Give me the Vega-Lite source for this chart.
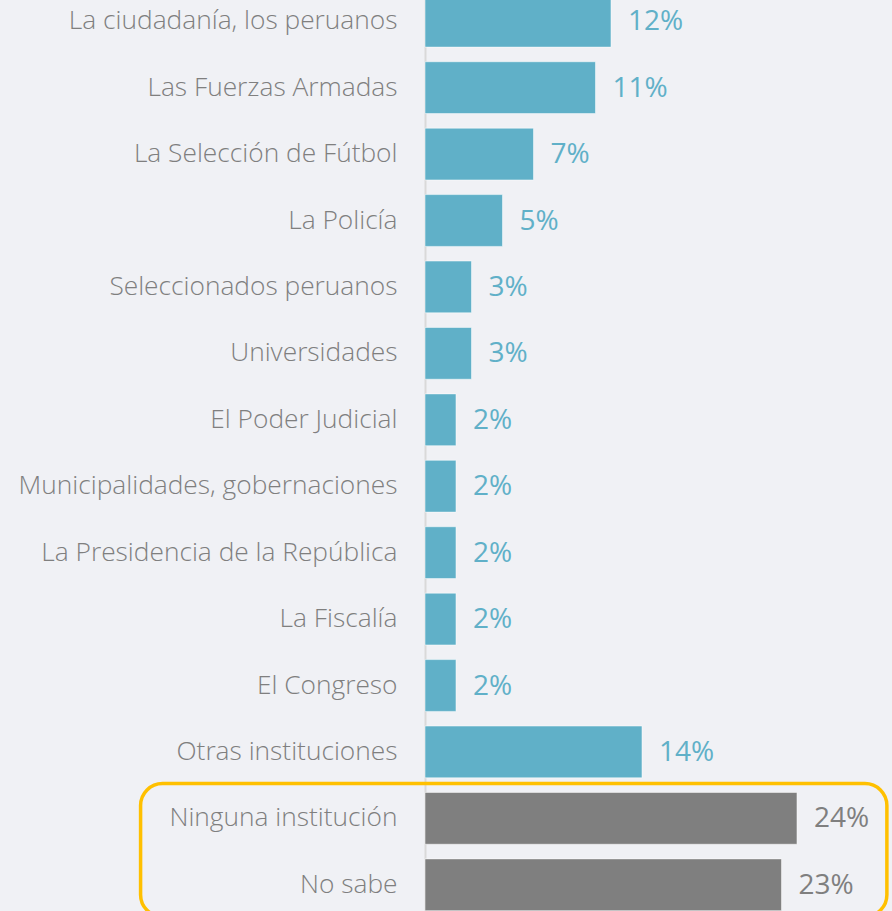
{
  "$schema": "https://vega.github.io/schema/vega-lite/v6.json",
  "autosize": {"type": "none"},
  "padding": {"left": 425, "top": -12, "right": 0, "bottom": -7},
  "width": 467,
  "height": 930,
  "background": "#f0f1f5",
  "config": {"view": {"stroke": null}},
  "datasets": {
    "rows": [
      {"label": "La ciudadanía, los peruanos", "value": 12, "text": "12%", "group": "inst"},
      {"label": "Las Fuerzas Armadas", "value": 11, "text": "11%", "group": "inst"},
      {"label": "La Selección de Fútbol", "value": 7, "text": "7%", "group": "inst"},
      {"label": "La Policía", "value": 5, "text": "5%", "group": "inst"},
      {"label": "Seleccionados peruanos", "value": 3, "text": "3%", "group": "inst"},
      {"label": "Universidades", "value": 3, "text": "3%", "group": "inst"},
      {"label": "El Poder Judicial", "value": 2, "text": "2%", "group": "inst"},
      {"label": "Municipalidades, gobernaciones", "value": 2, "text": "2%", "group": "inst"},
      {"label": "La Presidencia de la República", "value": 2, "text": "2%", "group": "inst"},
      {"label": "La Fiscalía", "value": 2, "text": "2%", "group": "inst"},
      {"label": "El Congreso", "value": 2, "text": "2%", "group": "inst"},
      {"label": "Otras instituciones", "value": 14, "text": "14%", "group": "inst"},
      {"label": "Ninguna institución", "value": 24, "text": "24%", "group": "none"},
      {"label": "No sabe", "value": 23, "text": "23%", "group": "none"}
    ],
    "box": [
      {"from": "Ninguna institución", "to": "No sabe", "x0": -18.35, "x1": 29.8}
    ]
  },
  "layer": [
    {
      "data": {"name": "rows"},
      "mark": {"type": "bar", "stroke": "#ffffff", "strokeOpacity": 0.5, "strokeWidth": 1},
      "encoding": {
        "y": {
          "field": "label", "type": "nominal", "sort": null,
          "scale": {"paddingInner": 0.22, "paddingOuter": 0.11},
          "axis": {
            "title": null, "ticks": false, "labelPadding": 28,
            "labelFont": "Open Sans", "labelFontSize": 26.3, "labelFontWeight": 300, "labelColor": "#7f7f7f",
            "labelLimit": 500, "domainColor": "#d9d9d9", "domainWidth": 2
          }
        },
        "x": {
          "field": "value", "type": "quantitative",
          "scale": {"domain": [0, 30.13], "nice": false, "zero": false},
          "axis": null
        },
        "color": {
          "field": "group", "type": "nominal", "legend": null,
          "scale": {"domain": ["inst", "none"], "range": ["#60b0c8", "#7f7f7f"]}
        }
      }
    },
    {
      "data": {"name": "rows"},
      "mark": {"type": "text", "align": "left", "baseline": "middle", "dx": 17, "dy": 1, "font": "Open Sans", "fontSize": 28},
      "encoding": {
        "y": {"field": "label", "type": "nominal", "sort": null},
        "x": {"field": "value", "type": "quantitative"},
        "text": {"field": "text"},
        "color": {"field": "group", "type": "nominal", "legend": null}
      }
    },
    {
      "data": {"name": "box"},
      "mark": {"type": "rect", "fill": null, "stroke": "#ffc000", "strokeWidth": 3.5, "cornerRadius": 22, "yOffset": -9, "y2Offset": 6},
      "encoding": {
        "y": {"field": "from", "type": "nominal", "sort": null, "bandPosition": 0},
        "y2": {"field": "to", "bandPosition": 1},
        "x": {"field": "x0", "type": "quantitative"},
        "x2": {"field": "x1"}
      }
    }
  ]
}
